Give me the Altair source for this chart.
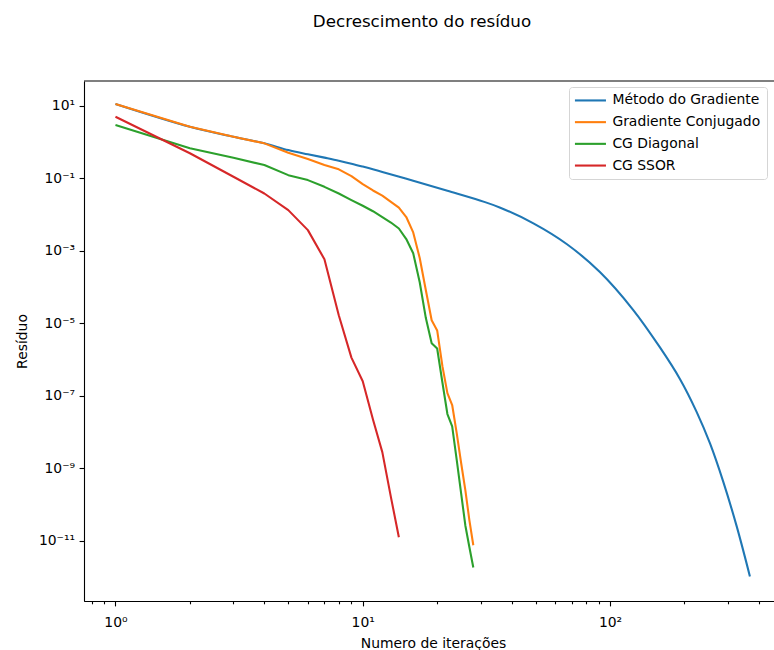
import math
import altair as alt
import pandas as pd

# ---------------- data ----------------
series_names = ["Método do Gradiente", "Gradiente Conjugado", "CG Diagonal", "CG SSOR"]
series_colors = ["#1f77b4", "#ff7f0e", "#2ca02c", "#d62728"]

grad_iter = [1, 2, 3, 4, 5, 6, 7, 8, 9, 10, 12, 16, 22, 31, 36, 49, 67, 91,
             124, 159, 192, 224, 254, 287, 325, 368]
grad_res = [11.2, 2.63, 1.40, 0.92, 0.60, 0.460, 0.371, 0.306, 0.253, 0.210, 0.150,
            8.5e-2, 4.5e-2, 2.23e-2, 1.54e-2, 5.7e-3, 1.51e-3, 2.58e-4,
            2.34e-5, 2.17e-6, 2.84e-7, 3.56e-8, 4.69e-9, 4.21e-10, 2.53e-11, 1.02e-12]

cg_iter = list(range(1, 29))
cg_res = [11.2, 2.63, 1.40, 0.92, 0.506, 0.339, 0.232, 0.176, 0.115, 6.9e-2,
          4.6e-2, 3.3e-2, 2.24e-2, 1.55e-2, 8.5e-3, 3.2e-3, 6.3e-4, 8.1e-5,
          1.2e-5, 6.3e-6, 6.5e-7, 1.17e-7, 5.5e-8, 9.1e-9, 1.38e-9, 2.45e-10,
          3.6e-11, 7.4e-12]

cgd_iter = list(range(1, 29))
cgd_res = [2.95, 0.67, 0.368, 0.232, 0.122, 8.9e-2, 5.8e-2, 3.8e-2, 2.5e-2,
           1.74e-2, 1.23e-2, 8.5e-3, 6.0e-3, 4.1e-3, 2.1e-3, 8.5e-4, 1.35e-4,
           1.38e-5, 2.8e-6, 2.0e-6, 2.3e-7, 3.1e-8, 1.41e-8, 1.66e-9, 2.0e-10,
           2.6e-11, 6.5e-12, 1.8e-12]

ssor_iter = list(range(1, 15))
ssor_res = [5.0, 0.49, 0.11, 3.8e-2, 1.32e-2, 3.7e-3, 5.8e-4, 1.66e-5, 1.12e-6,
            2.5e-7, 2.2e-8, 2.75e-9, 1.58e-10, 1.23e-11]

x_major = [1, 10, 100]
x_major_labels = ["10⁰", "10¹", "10²"]
x_minor = [0.8, 0.9, 2, 3, 4, 5, 6, 7, 8, 9, 20, 30, 40, 50, 60, 70, 80, 90, 200, 300, 400]
y_ticks = [1e1, 1e-1, 1e-3, 1e-5, 1e-7, 1e-9, 1e-11]
y_tick_labels = ["10¹", "10⁻¹", "10⁻³", "10⁻⁵", "10⁻⁷", "10⁻⁹", "10⁻¹¹"]

title_text = "Decrescimento do resíduo"
x_title = "Numero de iterações"
y_title = "Resíduo"

# ---------------- table ----------------
rows = []
for name, xs, ys in zip(series_names,
                        [grad_iter, cg_iter, cgd_iter, ssor_iter],
                        [grad_res, cg_res, cgd_res, ssor_res]):
    for x, y in zip(xs, ys):
        rows.append({"serie": name, "iter": x, "res": y})
df = pd.DataFrame(rows)


def label_expr(values, labels):
    parts = [f"abs(log(datum.value)/LN10 - ({round(math.log10(v))})) < 0.01 ? '{l}'"
             for v, l in zip(values, labels)]
    return " : ".join(parts) + " : ''"


FONT = "DejaVu Sans"
W, H = 690, 520
x_scale = alt.Scale(type="log", domain=[0.746, 460.5], nice=False)
y_scale = alt.Scale(type="log", domain=[10 ** -12.67, 10 ** 1.685], nice=False)
color_scale = alt.Scale(domain=series_names, range=series_colors)

common_axis = dict(tickColor="black", tickWidth=1.1, domainColor="black", domainWidth=1.1,
                   labelFont=FONT, labelFontSize=13.9, labelColor="black", grid=False,
                   titleFont=FONT, titleFontSize=13.9, titleFontWeight="normal",
                   titleColor="black")

x_axis_major = alt.Axis(values=x_major, labelExpr=label_expr(x_major, x_major_labels),
                        orient="bottom", tickSize=4.9, labelBaseline="alphabetic",
                        labelPadding=21, labelFlush=False, labelOverlap=False,
                        title=x_title, titleX=349, titleY=46, titleBaseline="alphabetic",
                        **common_axis)
x_axis_minor = alt.Axis(values=x_minor, labels=False, orient="bottom", tickSize=2.8,
                        title=None, **{k: v for k, v in common_axis.items()
                                       if not k.startswith("title")})
y_axis = alt.Axis(values=y_ticks, labelExpr=label_expr(y_ticks, y_tick_labels),
                  orient="left", tickSize=4.9, labelPadding=4.5, labelBaseline="middle",
                  labelOverlap=False, labelFlush=False,
                  title=y_title, titleX=-58, titleY=260, titleAngle=270,
                  titleBaseline="alphabetic", **common_axis)

legend = alt.Legend(title=None, orient="none", legendX=485, legendY=6,
                    symbolType="M-3,0H3", symbolSize=107, symbolStrokeWidth=2.1,
                    symbolOffset=8, symbolFillColor="transparent",
                    labelFont=FONT, labelFontSize=13.9, labelColor="black",
                    labelOffset=15, rowPadding=6.7, padding=6.5,
                    strokeColor="#d5d5d5", fillColor="rgba(255,255,255,0.8)",
                    cornerRadius=3, labelLimit=300)

layers = []
for i, name in enumerate(series_names):
    if i == 0:
        xax = x_axis_major
    elif i == 1:
        xax = x_axis_minor
    else:
        xax = None
    layer = (
        alt.Chart(df)
        .transform_filter(alt.datum.serie == name)
        .mark_line(strokeWidth=2.08, strokeJoin="round",
                   interpolate="catmull-rom" if i == 0 else "linear", clip=True)
        .encode(
            x=alt.X("iter:Q", scale=x_scale, axis=xax),
            y=alt.Y("res:Q", scale=y_scale, axis=y_axis),
            color=alt.Color("serie:N", scale=color_scale, legend=legend, sort=series_names),
        )
    )
    layers.append(layer)

top_border = alt.Chart(pd.DataFrame({"k": [0]})).mark_rule(
    color="black", strokeWidth=1.1
).encode(x=alt.value(0), x2=alt.value(W), y=alt.value(0))

chart = (
    alt.layer(*layers, top_border)
    .resolve_axis(x="independent")
    .properties(
        width=W, height=H,
        autosize=alt.AutoSizeParams(type="none"),
        padding={"left": 84, "top": 81, "right": 0, "bottom": 49},
        title=alt.TitleParams(text=title_text, font=FONT, fontSize=16.7,
                              fontWeight="normal", color="black", anchor="middle",
                              dx=-7, offset=37, baseline="alphabetic", frame="group"),
        background="white",
    )
    .configure_view(stroke=None)
)

chart.save("out.html", embed_options={"renderer": "svg", "actions": False})
